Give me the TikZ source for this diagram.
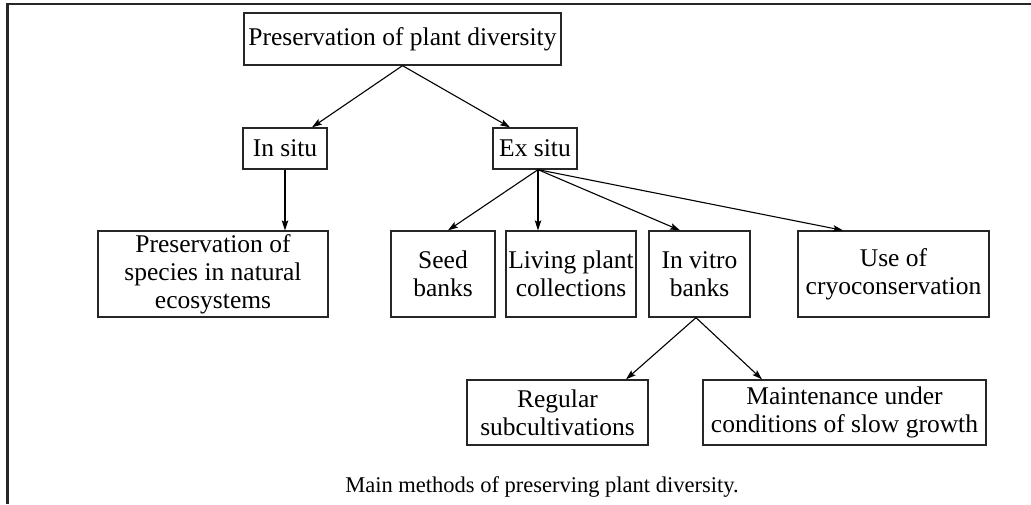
\documentclass[tikz,border=0pt]{standalone}
\usepackage{fontspec}
\setmainfont{Liberation Serif}
\usetikzlibrary{arrows.meta}
\begin{document}
\begin{tikzpicture}[x=1pt,y=-1pt,
  box/.style={draw=black!85,line width=1.3pt,align=center,inner sep=0pt,
    font=\fontsize{25.5}{28}\selectfont},
  conn/.style={line width=1.1pt,-{Stealth[length=10pt,width=6.5pt,inset=2pt]}}]
\useasboundingbox (0,0) rectangle (1031,504);
\draw[line width=2.2pt,black!85] (7.5,504) -- (7.5,4) -- (1031,4);
\node[box,minimum width=317pt,minimum height=52pt] (top) at (402.5,39) {Preservation of plant diversity};
\node[box,minimum width=84pt,minimum height=41pt] (insitu) at (285,148.5) {In situ};
\node[box,minimum width=84pt,minimum height=41pt] (exsitu) at (535,148.5) {Ex situ};
\node[box,minimum width=230pt,minimum height=86pt] (pres) at (213,274) {Preservation of\\species in natural\\ecosystems};
\node[box,minimum width=104pt,minimum height=86pt] (seed) at (443,274) {Seed\\banks};
\node[box,minimum width=130pt,minimum height=86pt] (living) at (571,274) {Living plant\\collections};
\node[box,minimum width=101pt,minimum height=86pt] (invitro) at (699.5,274) {In vitro\\banks};
\node[box,minimum width=191pt,minimum height=86pt] (cryo) at (893.5,274) {Use of\\cryoconservation};
\node[box,minimum width=181pt,minimum height=65pt] (regular) at (557.5,412.5) {Regular\\subcultivations};
\node[box,minimum width=283pt,minimum height=65pt] (maint) at (844.5,412.5) {Maintenance under\\conditions of slow growth};
\node[font=\fontsize{22.5}{26}\selectfont,anchor=base] (caption) at (542,492) {Main methods of preserving plant diversity.};
\draw[conn] (top.south) -- ([xshift=27pt]insitu.north);
\draw[conn] (top.south) -- ([xshift=-25pt]exsitu.north);
\draw[conn] (insitu.south) -- (insitu.south |- pres.north);
\coordinate (ex) at ([xshift=3pt]exsitu.south);
\draw[conn] (ex) -- ([xshift=5pt]seed.north);
\draw[conn] (ex) -- ([xshift=-33pt]living.north);
\draw[conn] (ex) -- ([xshift=-19.5pt]invitro.north);
\draw[conn] (ex) -- ([xshift=-50.5pt]cryo.north);
\coordinate (iv) at ([xshift=-3.5pt]invitro.south);
\draw[conn] (iv) -- ([xshift=68.5pt]regular.north);
\draw[conn] (iv) -- ([xshift=-82.5pt]maint.north);
\end{tikzpicture}
\end{document}
